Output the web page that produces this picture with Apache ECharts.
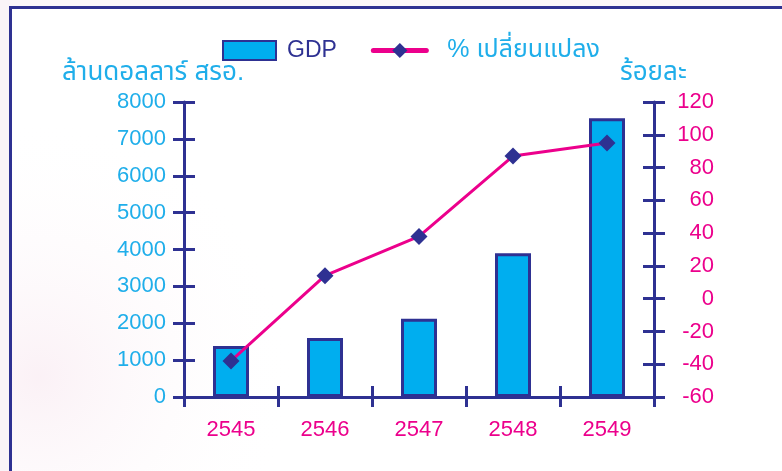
<!DOCTYPE html>
<html>
<head>
<meta charset="utf-8">
<script src="https://cdn.jsdelivr.net/npm/echarts@6/dist/echarts.min.js"></script>
<style>
html,body{margin:0;padding:0;background:#fff;}
#chart{width:782px;height:471px;}
</style>
</head>
<body>
<div id="chart"></div>
<script>
const categories = ['2545', '2546', '2547', '2548', '2549'];
const gdpValues = [1380, 1600, 2120, 3900, 7560];
const changeValues = [-38, 14, 38, 87, 95];
const leftName = 'ล้านดอลลาร์ สรอ.';
const rightName = 'ร้อยละ';
const gdpName = 'GDP';
const changeName = '% เปลี่ยนแปลง';

const NAVY = '#2E3192';
const CYAN = '#1FAEEA';
const BARFILL = '#00AEEF';
const MAGENTA = '#EC008C';
const FONT = "'Liberation Sans', Arial, 'Noto Sans Thai', 'Loma', 'Garuda', sans-serif";

const chart = echarts.init(document.getElementById('chart'), null, {renderer: 'canvas'});
const gridBox = {left: 184, right: 128, top: 102, bottom: 74};

chart.setOption({
  backgroundColor: '#ffffff',
  animation: false,
  textStyle: {fontFamily: FONT},
  graphic: [
    {type: 'rect', z: -10, silent: true, shape: {x: 0, y: 0, width: 782, height: 471},
     style: {fill: new echarts.graphic.RadialGradient(0.05, 0.8, 0.55, [
       {offset: 0, color: 'rgba(240,205,222,0.28)'},
       {offset: 1, color: 'rgba(255,255,255,0)'}])}},
    {type: 'rect', z: -10, silent: true, shape: {x: 0, y: 0, width: 782, height: 8},
     style: {fill: '#FAF6F9'}},
    {type: 'rect', z: -10, silent: true, shape: {x: 0, y: 0, width: 10, height: 471},
     style: {fill: '#FAF4F8'}},
    {type: 'polyline', z: 10, silent: true,
     shape: {points: [[10.5, 480], [10.5, 7.5], [790, 7.5]]},
     style: {stroke: NAVY, lineWidth: 3, fill: null}},
    {type: 'text', left: 62, top: 60, silent: true,
     style: {text: leftName, fill: CYAN, font: '26px ' + FONT}},
    {type: 'text', left: 620, top: 60, silent: true,
     style: {text: rightName, fill: CYAN, font: '26px ' + FONT}}
  ],
  legend: {
    left: 222, top: 38, padding: 0,
    itemWidth: 53, itemHeight: 19, itemGap: 34,
    textStyle: {fontSize: 23, fontFamily: FONT, padding: [0, 0, 0, 6]},
    data: [
      {name: gdpName, icon: 'rect', textStyle: {color: NAVY, fontSize: 23}},
      {name: changeName, textStyle: {color: CYAN, fontSize: 25, padding: [0, 0, 0, 16]},
       lineStyle: {width: 5, cap: 'round'}}
    ]
  },
  grid: [
    Object.assign({}, gridBox),
    Object.assign({}, gridBox)
  ],
  xAxis: [
    {type: 'category', gridIndex: 0, data: categories, boundaryGap: true,
     axisLine: {lineStyle: {color: NAVY, width: 3}},
     axisTick: {show: true, length: 10, lineStyle: {color: NAVY, width: 3}},
     axisLabel: {color: MAGENTA, fontSize: 22, margin: 22, fontFamily: FONT},
     splitLine: {show: false}},
    {type: 'category', gridIndex: 1, data: categories, boundaryGap: true,
     axisLine: {show: false},
     axisTick: {show: true, inside: true, length: 11, lineStyle: {color: NAVY, width: 3}},
     axisLabel: {show: false}, splitLine: {show: false}}
  ],
  yAxis: [
    {type: 'value', gridIndex: 0, position: 'left', min: 0, max: 8000, interval: 1000,
     axisLine: {show: true, lineStyle: {color: NAVY, width: 3}},
     axisTick: {show: true, length: 11, lineStyle: {color: NAVY, width: 3}},
     axisLabel: {color: CYAN, fontSize: 22, margin: 18, fontFamily: FONT,
                 formatter: function (v) { return String(v); }},
     splitLine: {show: false}},
    {type: 'value', gridIndex: 0, position: 'right', min: -60, max: 120, interval: 20,
     axisLine: {show: true, lineStyle: {color: NAVY, width: 3}},
     axisTick: {show: true, length: 11, lineStyle: {color: NAVY, width: 3}},
     axisLabel: {color: MAGENTA, fontSize: 22, margin: 60, align: 'right', fontFamily: FONT},
     splitLine: {show: false}},
    {type: 'value', gridIndex: 1, position: 'left', min: 0, max: 8000, interval: 1000,
     axisLine: {show: false},
     axisTick: {show: true, inside: true, length: 11, lineStyle: {color: NAVY, width: 3}},
     axisLabel: {show: false}, splitLine: {show: false}},
    {type: 'value', gridIndex: 1, position: 'right', min: -60, max: 120, interval: 20,
     axisLine: {show: false},
     axisTick: {show: true, inside: true, length: 11, lineStyle: {color: NAVY, width: 3}},
     axisLabel: {show: false}, splitLine: {show: false}}
  ],
  series: [
    {name: gdpName, type: 'bar', xAxisIndex: 0, yAxisIndex: 0, data: gdpValues,
     barWidth: 36,
     itemStyle: {color: BARFILL, borderColor: NAVY, borderWidth: 3}},
    {name: changeName, type: 'line', xAxisIndex: 0, yAxisIndex: 1, data: changeValues,
     symbol: 'diamond', symbolSize: 17, z: 5,
     lineStyle: {color: MAGENTA, width: 3},
     itemStyle: {color: NAVY}}
  ]
});
</script>
</body>
</html>
